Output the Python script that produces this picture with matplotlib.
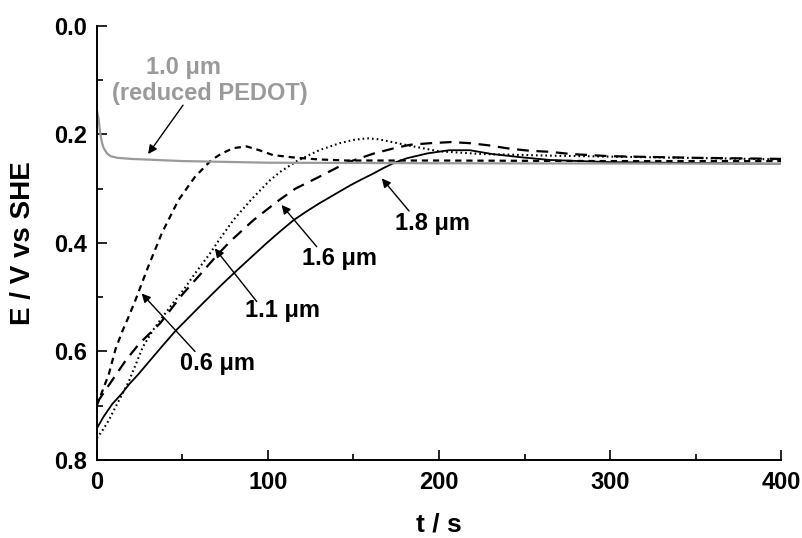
import matplotlib
matplotlib.use("Agg")
import matplotlib.pyplot as plt

plt.rcParams['font.family'] = ['Liberation Sans', 'DejaVu Sans']
plt.rcParams['font.weight'] = 'bold'
plt.rcParams['lines.scale_dashes'] = False

# --- Data ---
# 0.6 um film (short dashes)
t_06 = [0, 3, 7, 11, 15, 19, 23, 30, 38, 47.7, 57.4, 67, 73, 80, 87.6, 95, 103, 117, 130, 146, 200, 300, 400]
E_06 = [0.700, 0.675, 0.642, 0.595, 0.562, 0.533, 0.502, 0.444, 0.382, 0.321, 0.278, 0.247, 0.235, 0.225,
        0.222, 0.229, 0.238, 0.243, 0.246, 0.248, 0.248, 0.249, 0.249]

# 1.1 um film (dotted)
t_11 = [0, 3.4, 7, 11, 15, 19, 23, 27, 33, 38, 44, 51, 57, 66, 72, 80, 90, 101, 108, 117, 124, 130, 142,
        150, 158, 165, 171, 185, 200, 225, 265, 324, 400]
E_11 = [0.760, 0.745, 0.727, 0.702, 0.678, 0.653, 0.622, 0.591, 0.560, 0.538, 0.513, 0.485, 0.458, 0.420,
        0.392, 0.357, 0.321, 0.285, 0.267, 0.249, 0.238, 0.229, 0.216, 0.210, 0.207, 0.209, 0.213, 0.222,
        0.231, 0.236, 0.239, 0.242, 0.246]

# 1.6 um film (long dashes)
t_16 = [0, 9, 17, 25, 37, 50, 61, 71, 78, 91.5, 100, 107, 116, 130, 146, 162, 173, 183, 195, 207, 218, 229,
        241, 253, 265, 277, 300, 350, 400]
E_16 = [0.695, 0.653, 0.616, 0.585, 0.548, 0.495, 0.456, 0.420, 0.397, 0.358, 0.337, 0.320, 0.300, 0.278,
        0.252, 0.235, 0.226, 0.219, 0.216, 0.214, 0.216, 0.220, 0.226, 0.230, 0.232, 0.236, 0.240, 0.243, 0.245]

# 1.8 um film (solid)
t_18 = [0, 4, 9, 14.5, 19, 24, 31, 38, 46, 57, 63, 72, 80, 90, 99, 107, 115, 122, 130, 142, 148, 154, 161,
        167.5, 174, 181, 193, 206, 218, 231, 248, 265, 300, 360, 400]
E_18 = [0.742, 0.720, 0.697, 0.678, 0.660, 0.643, 0.617, 0.591, 0.562, 0.527, 0.508, 0.480, 0.456, 0.427,
        0.401, 0.379, 0.358, 0.343, 0.327, 0.305, 0.294, 0.284, 0.273, 0.262, 0.252, 0.244, 0.235, 0.229,
        0.229, 0.236, 0.242, 0.247, 0.251, 0.253, 0.254]

# 1.0 um reduced PEDOT (grey)
t_red = [0, 1, 2, 3, 4, 6, 8, 12, 20, 50, 100, 200, 400]
E_red = [0.155, 0.170, 0.198, 0.215, 0.225, 0.235, 0.240, 0.243, 0.245, 0.249, 0.252, 0.253, 0.254]

GREY = "#9a9a9a"

fig = plt.figure(figsize=(8.02, 5.38), dpi=100)
ax = fig.add_axes([0.1207, 0.145, 0.8533, 0.8067])

ax.plot(t_06, E_06, color="black", lw=1.6, dashes=(4.5, 3.5))
ax.plot(t_11, E_11, color="black", lw=1.5, dashes=(1.2, 2.2))
ax.plot(t_16, E_16, color="black", lw=1.6, dashes=(8.5, 5.5))
ax.plot(t_18, E_18, color="black", lw=1.3)
ax.plot(t_red, E_red, color=GREY, lw=1.6)

ax.set_xlim(0, 400)
ax.set_ylim(0.8, 0.0)
ax.set_xticks([0, 100, 200, 300, 400])
ax.set_xticks([50, 150, 250, 350], minor=True)
ax.set_yticks([0.0, 0.2, 0.4, 0.6, 0.8])
ax.set_yticks([0.1, 0.3, 0.5, 0.7], minor=True)
ax.set_yticklabels(["0.0", "0.2", "0.4", "0.6", "0.8"])

for side in ["top", "right"]:
    ax.spines[side].set_visible(False)
for side in ["left", "bottom"]:
    ax.spines[side].set_linewidth(1.4)

ax.tick_params(which="both", direction="in", width=1.2, labelsize=17)
ax.tick_params(which="major", length=7)
ax.tick_params(which="minor", length=4)
ax.tick_params(axis="y", pad=7)
ax.tick_params(axis="x", pad=8)

ax.set_xlabel("t / s", fontsize=19, fontweight="bold", labelpad=13)
ax.set_ylabel("E / V vs SHE", fontsize=20, fontweight="bold", labelpad=13)

# --- Annotations ---
arrow = dict(arrowstyle="-|>", color="black", lw=1.0, mutation_scale=13, shrinkA=0, shrinkB=0)

ax.text(28.5, 0.077, "1.0 μm", color=GREY, fontsize=17, fontweight="bold", ha="left", va="center")
ax.text(9.0, 0.124, "(reduced PEDOT)", color=GREY, fontsize=17, fontweight="bold", ha="left", va="center")
ax.annotate("", xy=(30, 0.236), xytext=(50.4, 0.146), arrowprops=arrow)

ax.text(196, 0.365, "1.8 μm", fontsize=17, fontweight="bold", ha="center", va="center")
ax.annotate("", xy=(166.6, 0.281), xytext=(182.5, 0.341), arrowprops=arrow)

ax.text(142, 0.429, "1.6 μm", fontsize=17, fontweight="bold", ha="center", va="center")
ax.annotate("", xy=(108, 0.330), xytext=(128.6, 0.407), arrowprops=arrow)

ax.text(108.6, 0.525, "1.1 μm", fontsize=17, fontweight="bold", ha="center", va="center")
ax.annotate("", xy=(69, 0.410), xytext=(93.5, 0.508), arrowprops=arrow)

ax.text(70.6, 0.623, "0.6 μm", fontsize=17, fontweight="bold", ha="center", va="center")
ax.annotate("", xy=(26.2, 0.493), xytext=(57.4, 0.600), arrowprops=arrow)

fig.savefig("out.png", dpi=100)
